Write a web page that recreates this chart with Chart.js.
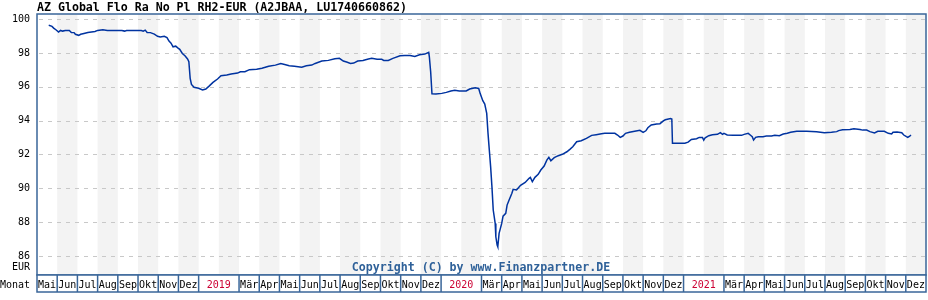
<!DOCTYPE html>
<html>
<head>
<meta charset="utf-8">
<script src="https://cdn.jsdelivr.net/npm/chart.js@4"></script>
<style>
  body { margin: 0; background: #fff; }
  canvas { display: block; }
</style>
</head>
<body>
<canvas id="canvasKurs" width="928" height="300"></canvas>
<script>
// Titel und Achsen
const titulo = 'AZ Global Flo Ra No Pl RH2-EUR (A2JBAA, LU1740660862)';
const copyright = 'Copyright (C) by www.Finanzpartner.DE';
const yTicks = [86, 88, 90, 92, 94, 96, 98, 100];
const yEinheit = 'EUR';
const xTitel = 'Monat';
const mesesNombres = ['Jan', 'Feb', 'Mär', 'Apr', 'Mai', 'Jun', 'Jul', 'Aug', 'Sep', 'Okt', 'Nov', 'Dez'];
const inicioAnio = 2018, inicioMes = 5, numMeses = 44;

// Kursverlauf
const fechas = [
  '2018-05-19','2018-05-24','2018-05-27','2018-05-30','2018-06-03','2018-06-06','2018-06-09','2018-06-13','2018-06-19','2018-06-22',
  '2018-06-26','2018-06-28','2018-07-03','2018-07-06','2018-07-11','2018-07-17','2018-07-28','2018-08-01','2018-08-09','2018-08-16',
  '2018-09-07','2018-09-11','2018-09-14','2018-10-06','2018-10-09','2018-10-12','2018-10-15','2018-10-20','2018-10-26','2018-10-31',
  '2018-11-04','2018-11-10','2018-11-14','2018-11-17','2018-11-20','2018-11-23','2018-11-27','2018-11-30','2018-12-03','2018-12-07',
  '2018-12-11','2018-12-15','2018-12-17','2018-12-18','2018-12-19','2018-12-21','2018-12-25',
  '2019-01-01','2019-01-07','2019-01-12','2019-01-17','2019-01-23','2019-01-30','2019-02-04','2019-02-12','2019-02-18','2019-02-27',
  '2019-03-03','2019-03-10','2019-03-17','2019-03-28','2019-04-05','2019-04-15','2019-04-25','2019-05-03','2019-05-09','2019-05-16',
  '2019-05-24','2019-06-04','2019-06-11','2019-06-19','2019-06-24','2019-07-04','2019-07-14','2019-07-24','2019-07-31','2019-08-06',
  '2019-08-11','2019-08-17','2019-08-22','2019-08-28','2019-09-05','2019-09-13','2019-09-18','2019-09-26','2019-10-03','2019-10-06',
  '2019-10-13','2019-10-20','2019-10-31','2019-11-07','2019-11-15','2019-11-22','2019-11-29','2019-12-07','2019-12-13','2019-12-14',
  '2019-12-16','2019-12-18','2019-12-24',
  '2020-01-02','2020-01-09','2020-01-16','2020-01-22','2020-01-29','2020-02-08','2020-02-13','2020-02-21','2020-02-26','2020-02-28',
  '2020-03-03','2020-03-06','2020-03-09','2020-03-11','2020-03-13','2020-03-15','2020-03-17','2020-03-19','2020-03-22','2020-03-23',
  '2020-03-25','2020-03-26','2020-03-28','2020-04-01','2020-04-03','2020-04-07','2020-04-09','2020-04-12','2020-04-16','2020-04-18',
  '2020-04-23','2020-04-29','2020-05-06','2020-05-12','2020-05-14','2020-05-17','2020-05-21','2020-05-26','2020-05-30','2020-06-04',
  '2020-06-08','2020-06-11','2020-06-14','2020-06-19','2020-06-25','2020-07-01','2020-07-08','2020-07-13','2020-07-17','2020-07-23',
  '2020-07-30','2020-08-07','2020-08-15','2020-08-22','2020-08-30','2020-09-04','2020-09-19','2020-09-23','2020-09-27','2020-10-01',
  '2020-10-05','2020-10-11','2020-10-19','2020-10-27','2020-11-01','2020-11-05','2020-11-08','2020-11-13','2020-11-21','2020-11-26',
  '2020-12-01','2020-12-04','2020-12-12','2020-12-14','2020-12-15','2020-12-19',
  '2021-01-03','2021-01-08','2021-01-13','2021-01-21','2021-01-25','2021-01-30','2021-02-01','2021-02-03','2021-02-08','2021-02-13',
  '2021-02-20','2021-02-24','2021-02-27','2021-03-01','2021-03-06','2021-03-15','2021-03-28','2021-04-01','2021-04-07','2021-04-10',
  '2021-04-13','2021-04-15','2021-04-18','2021-04-22','2021-04-29','2021-05-04','2021-05-12','2021-05-17','2021-05-24','2021-05-30',
  '2021-06-05','2021-06-10','2021-06-19','2021-07-04','2021-07-19','2021-07-31','2021-08-11','2021-08-19','2021-08-22','2021-08-28',
  '2021-09-08','2021-09-14','2021-09-23','2021-09-27','2021-10-03','2021-10-08','2021-10-15','2021-10-20','2021-10-30','2021-11-05',
  '2021-11-10','2021-11-12','2021-11-18','2021-11-25','2021-11-28','2021-12-02','2021-12-04','2021-12-07','2021-12-09'
];
const valores = [
  99.63, 99.57, 99.45, 99.37, 99.23, 99.33, 99.29, 99.33, 99.33, 99.21,
  99.20, 99.10, 99.04, 99.10, 99.15, 99.21, 99.27, 99.33, 99.37, 99.33,
  99.33, 99.29, 99.33, 99.33, 99.29, 99.35, 99.21, 99.20, 99.11, 98.98,
  98.94, 98.98, 98.90, 98.70, 98.58, 98.36, 98.40, 98.30, 98.21, 97.97,
  97.83, 97.64, 97.48, 96.99, 96.50, 96.14, 95.97,
  95.91, 95.81, 95.87, 96.04, 96.26, 96.46, 96.65, 96.69, 96.75, 96.81,
  96.89, 96.89, 97.01, 97.03, 97.09, 97.21, 97.28, 97.38, 97.32, 97.24,
  97.21, 97.15, 97.24, 97.28, 97.38, 97.52, 97.56, 97.66, 97.68, 97.52,
  97.46, 97.38, 97.40, 97.52, 97.55, 97.64, 97.68, 97.62, 97.62, 97.56,
  97.56, 97.68, 97.83, 97.85, 97.85, 97.79, 97.89, 97.93, 98.03, 97.77,
  96.89, 95.58, 95.57,
  95.61, 95.67, 95.75, 95.79, 95.75, 95.75, 95.87, 95.94, 95.90, 95.61,
  95.18, 94.98, 94.43, 93.25, 92.26, 91.28, 90.10, 88.72, 87.93, 87.14,
  86.65, 86.55, 87.34, 87.93, 88.36, 88.52, 89.01, 89.31, 89.70, 89.94,
  89.90, 90.18, 90.35, 90.59, 90.65, 90.39, 90.65, 90.83, 91.08, 91.32,
  91.67, 91.83, 91.63, 91.81, 91.93, 92.01, 92.16, 92.32, 92.46, 92.75,
  92.81, 92.95, 93.13, 93.17, 93.22, 93.25, 93.25, 93.15, 93.01, 93.09,
  93.25, 93.31, 93.37, 93.43, 93.31, 93.40, 93.58, 93.74, 93.80, 93.82,
  93.98, 94.05, 94.13, 94.10, 92.66, 92.66,
  92.66, 92.73, 92.89, 92.93, 93.01, 93.01, 92.85, 92.99, 93.11, 93.17,
  93.19, 93.29, 93.19, 93.25, 93.15, 93.13, 93.13, 93.19, 93.25, 93.15,
  93.05, 92.85, 93.01, 93.05, 93.05, 93.09, 93.09, 93.13, 93.11, 93.21,
  93.25, 93.31, 93.37, 93.37, 93.35, 93.29, 93.31, 93.35, 93.41, 93.46,
  93.48, 93.52, 93.48, 93.44, 93.44, 93.35, 93.27, 93.37, 93.37, 93.25,
  93.21, 93.31, 93.33, 93.29, 93.15, 93.05, 93.01, 93.09, 93.15
];

// Datum -> Monatsindex (0 = Mai 2018)
function indiceMes(f) {
  let p = f.split('-').map(Number);
  let dias = new Date(p[0], p[1], 0).getDate();
  return (p[0] - inicioAnio) * 12 + (p[1] - inicioMes) + (p[2] - 1) / dias;
}

const puntos = fechas.map((f, i) => ({ x: indiceMes(f), y: valores[i] }));

const azulBorde = '#3a6699';
const fuenteMono = '"DejaVu Sans Mono", "Liberation Mono", monospace';

// Hintergrund: Monatsstreifen und Gitter
const fondoPlugin = {
  id: 'fondo',
  beforeDatasetsDraw(chart) {
    const { ctx, chartArea: a, scales: { x, y } } = chart;
    ctx.save();
    ctx.fillStyle = '#f3f3f3';
    for (let m = 1; m < numMeses; m += 2) {
      let x0 = x.getPixelForValue(m), x1 = x.getPixelForValue(m + 1);
      ctx.fillRect(x0, a.top, x1 - x0, a.bottom - a.top);
    }
    ctx.strokeStyle = '#c8c8c8';
    ctx.lineWidth = 1;
    ctx.setLineDash([4, 5]);
    yTicks.forEach(t => {
      let py = Math.round(y.getPixelForValue(t)) + 0.5;
      ctx.beginPath();
      ctx.moveTo(a.left + 2, py);
      ctx.lineTo(a.right, py);
      ctx.stroke();
    });
    ctx.restore();
  },
  afterDraw(chart) {
    const { ctx, chartArea: a, scales: { x, y } } = chart;
    ctx.save();
    // Rahmen
    ctx.strokeStyle = azulBorde;
    ctx.lineWidth = 1.5;
    ctx.strokeRect(a.left, a.top, a.right - a.left, a.bottom - a.top);

    // Titel
    ctx.fillStyle = '#000';
    ctx.font = 'bold 11.6px ' + fuenteMono;
    ctx.textAlign = 'left';
    ctx.textBaseline = 'middle';
    ctx.fillText(titulo, a.left, 8);

    // Y-Beschriftung
    ctx.font = '10px ' + fuenteMono;
    ctx.textAlign = 'right';
    yTicks.forEach(t => ctx.fillText(String(t), 30, y.getPixelForValue(t)));
    ctx.fillText(yEinheit, 30, 267);

    // Copyright
    ctx.fillStyle = '#2f6199';
    ctx.font = 'bold 11.6px ' + fuenteMono;
    ctx.textAlign = 'center';
    ctx.fillText(copyright, 481, 268);

    // Monatsleiste
    const top = a.bottom, bot = 292;
    ctx.fillStyle = '#000';
    ctx.font = '10px ' + fuenteMono;
    ctx.textAlign = 'right';
    ctx.fillText(xTitel, 30, 285);
    ctx.fillStyle = '#fff';
    ctx.fillRect(a.left, top, a.right - a.left, bot - top);
    ctx.strokeStyle = azulBorde;
    ctx.lineWidth = 1.5;
    ctx.strokeRect(a.left, top, a.right - a.left, bot - top);
    ctx.textAlign = 'center';
    for (let m = 0; m < numMeses; m++) {
      let mesNum = (inicioMes - 1 + m) % 12;
      let anio = inicioAnio + Math.floor((inicioMes - 1 + m) / 12);
      if (mesNum === 1) continue;
      let x0 = x.getPixelForValue(m);
      let x1 = x.getPixelForValue(mesNum === 0 ? m + 2 : m + 1);
      if (m > 0) {
        ctx.beginPath();
        ctx.moveTo(x0, top);
        ctx.lineTo(x0, bot);
        ctx.stroke();
      }
      if (mesNum === 0) {
        ctx.fillStyle = '#cc0033';
        ctx.fillText(String(anio), (x0 + x1) / 2, 285);
      } else {
        ctx.fillStyle = '#000';
        ctx.fillText(mesesNombres[mesNum], (x0 + x1) / 2, 285);
      }
    }
    ctx.restore();
  }
};

new Chart(document.getElementById('canvasKurs'), {
  type: 'line',
  data: {
    datasets: [{
      data: puntos,
      borderColor: '#0033a0',
      borderWidth: 1.5,
      pointRadius: 0,
      tension: 0,
      fill: false
    }]
  },
  options: {
    responsive: false,
    animation: false,
    devicePixelRatio: 1,
    layout: { padding: { left: 37, top: 14, right: 2, bottom: 25 } },
    plugins: { legend: { display: false }, tooltip: { enabled: false } },
    scales: {
      x: { type: 'linear', min: 0, max: numMeses, display: false },
      y: { min: 84.88, max: 100.3, display: false }
    }
  },
  plugins: [fondoPlugin]
});
</script>
</body>
</html>
